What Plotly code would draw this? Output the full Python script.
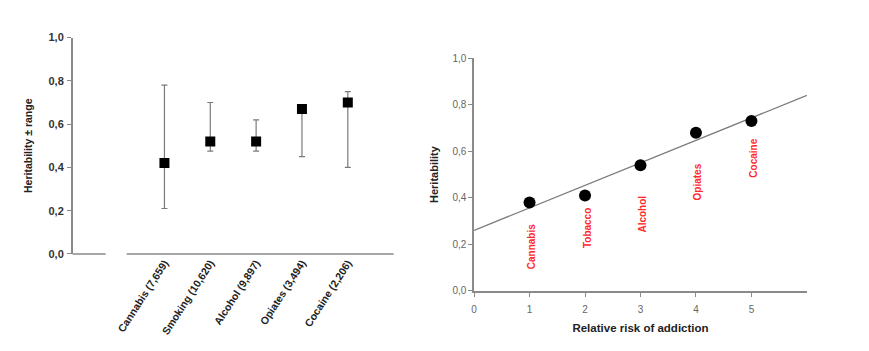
import plotly.graph_objects as go

# ---- Left panel data ----
substances = ["Cannabis (7,659)", "Smoking (10,620)", "Alcohol (9,897)", "Opiates (3,494)", "Cocaine (2,206)"]
heritability = [0.42, 0.52, 0.52, 0.67, 0.70]
range_low = [0.21, 0.475, 0.475, 0.45, 0.40]
range_high = [0.78, 0.70, 0.62, 0.67, 0.75]

# ---- Right panel data ----
relative_risk = [1, 2, 3, 4, 5]
herit_right = [0.38, 0.41, 0.54, 0.68, 0.73]
drug_labels = ["Cannabis", "Tobacco", "Alcohol", "Opiates", "Cocaine"]
label_y = [0.19, 0.27, 0.33, 0.47, 0.57]
trend_x = [0, 6]
trend_y = [0.26, 0.84]

W, H = 869, 351
FONT = "Liberation Sans, Arial, sans-serif"
AXC = "#8a8a8a"

err_plus = [h - v for h, v in zip(range_high, heritability)]
err_minus = [v - l for v, l in zip(heritability, range_low)]

fig = go.Figure()

fig.add_trace(go.Scatter(
    x=substances, y=heritability, mode="markers",
    marker=dict(symbol="square", size=10, color="black"),
    error_y=dict(type="data", array=err_plus, arrayminus=err_minus,
                 color="#7a7a7a", thickness=1.2, width=3),
    xaxis="x", yaxis="y", showlegend=False))

fig.add_trace(go.Scatter(
    x=trend_x, y=trend_y, mode="lines",
    line=dict(color="#7a7a7a", width=1.3),
    xaxis="x2", yaxis="y2", showlegend=False))

fig.add_trace(go.Scatter(
    x=relative_risk, y=herit_right, mode="markers",
    marker=dict(symbol="circle", size=12, color="black"),
    xaxis="x2", yaxis="y2", showlegend=False))

for xv, yv, t in zip(relative_risk, label_y, drug_labels):
    fig.add_annotation(x=xv, y=yv, xref="x2", yref="y2", text="<b>%s</b>" % t,
                       textangle=-90, showarrow=False, xshift=2,
                       font=dict(family=FONT, size=10, color="#ff2a2a"))

# broken x-axis line for left panel
fig.add_shape(type="line", xref="x domain", yref="y domain", x0=0, x1=0.1025, y0=0, y1=0,
              line=dict(color=AXC, width=1.5))
fig.add_shape(type="line", xref="x domain", yref="y domain", x0=0.168, x1=1, y0=0, y1=0,
              line=dict(color=AXC, width=1.5))

fig.update_layout(
    width=W, height=H, margin=dict(l=0, r=0, t=0, b=0),
    paper_bgcolor="white", plot_bgcolor="white",
    separators=",.",
    font=dict(family=FONT, color="#333"),
    xaxis=dict(domain=[70 / W, 392 / W], anchor="y", type="category",
               range=[-2, 5], showgrid=False, showline=False, zeroline=False,
               ticks="", tickangle=-57,
               tickfont=dict(family=FONT, size=10.5, color="#222", weight="bold")),
    yaxis=dict(domain=[(H - 256.7) / H, (H - 32.7) / H], anchor="x",
               range=[0, 1], tickvals=[0, 0.2, 0.4, 0.6, 0.8, 1.0], tickformat=".1f",
               showgrid=False, zeroline=False, showline=True, linecolor=AXC, linewidth=1.5,
               ticks="outside", ticklen=4, tickcolor=AXC, tickwidth=1.2,
               ticklabelstandoff=1,
               tickfont=dict(family=FONT, size=11, color="#333", weight="bold"),
               title=dict(text="<b>Heritability ± range</b>", standoff=14,
                          font=dict(family=FONT, size=10.5, color="#222"))),
    xaxis2=dict(domain=[472.7 / W, 806.7 / W], anchor="y2",
                range=[0, 6], tickvals=[0, 1, 2, 3, 4, 5], showgrid=False, zeroline=False,
                showline=True, linecolor=AXC, linewidth=1.5,
                ticks="outside", ticklen=4, tickcolor=AXC, tickwidth=1.2,
                ticklabelstandoff=4,
                tickfont=dict(family=FONT, size=10, color="#666"),
                title=dict(text="<b>Relative risk of addiction</b>", standoff=10,
                           font=dict(family=FONT, size=11.5, color="#222"))),
    yaxis2=dict(domain=[(H - 295) / H, (H - 54) / H], anchor="x2",
                range=[0, 1], tickvals=[0, 0.2, 0.4, 0.6, 0.8, 1.0], tickformat=".1f",
                showgrid=False, zeroline=False, showline=True, linecolor=AXC, linewidth=1.5,
                ticks="outside", ticklen=4, tickcolor=AXC, tickwidth=1.2,
                tickfont=dict(family=FONT, size=10, color="#666"),
                title=dict(text="<b>Heritability</b>", standoff=12,
                           font=dict(family=FONT, size=11, color="#222"))),
)

fig.write_html("out.html")
